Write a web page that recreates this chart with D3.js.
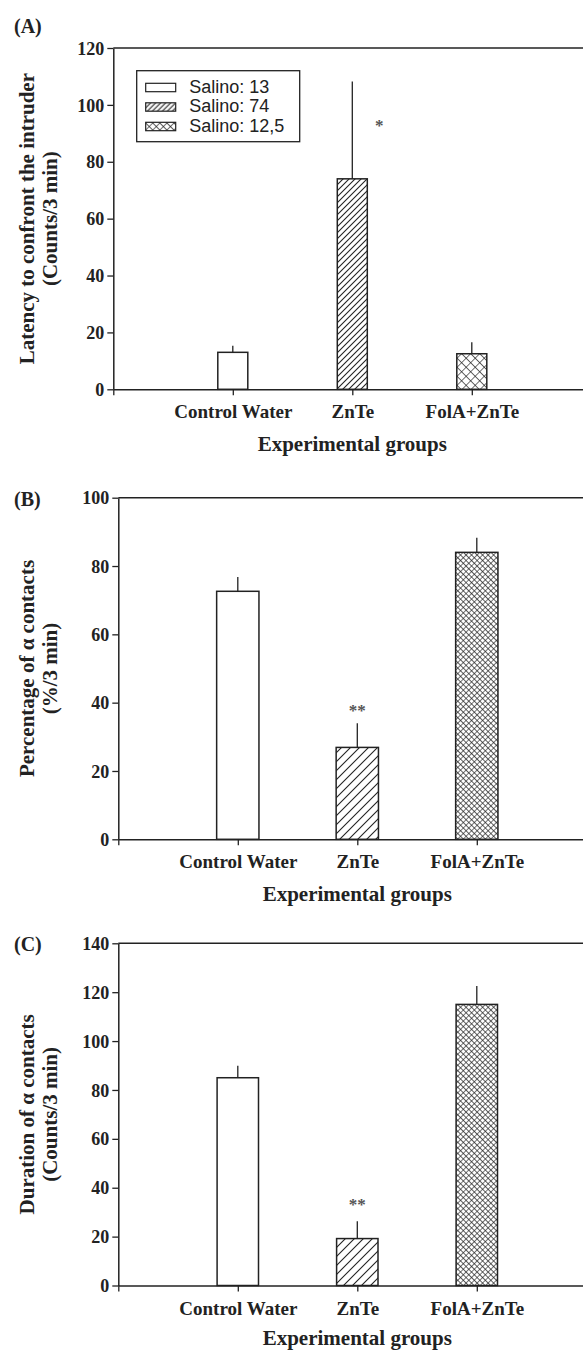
<!DOCTYPE html>
<html>
<head>
<meta charset="utf-8">
<script src="https://cdn.jsdelivr.net/npm/d3@7"></script>
<style>
  body { margin: 0; background: #fff; }
  svg { display: block; }
</style>
</head>
<body>
<svg width="583" height="1350"></svg>
<script>
// groups on the x axis
let groups = ["Control Water", "ZnTe", "FolA+ZnTe"];

// (A) latency to confront the intruder
let latencyMeans = [13, 74, 12.5];
let latencyErrors = [2.3, 34.2, 4.0];
let latencyStars = [null, "*", null];
let latencyStarAt = [null, 93.5, null];
let latencyTicks = [0, 20, 40, 60, 80, 100, 120];
let legendLabels = ["Salino: 13", "Salino: 74", "Salino: 12,5"];

// (B) percentage of alpha contacts
let percentMeans = [72.6, 26.9, 84.0];
let percentErrors = [4.2, 7.1, 4.3];
let percentStars = [null, "**", null];
let percentStarAt = [null, 38.3, null];
let percentTicks = [0, 20, 40, 60, 80, 100];

// (C) duration of alpha contacts
let durationMeans = [85, 19.2, 115];
let durationErrors = [4.9, 7.1, 7.5];
let durationStars = [null, "**", null];
let durationStarAt = [null, 33.9, null];
let durationTicks = [0, 20, 40, 60, 80, 100, 120, 140];

let svg = d3.select("svg");
let serif = "'Liberation Serif','Times New Roman',serif";
let sans = "'Liberation Sans',Arial,sans-serif";
let ink = "#222";
let fills = ["white", "hatch", "cross"];

let panels = [
  { key: "A", label: "(A)", labelY: 33, left: 113.3, top: 48, bottom: 389.3,
    means: latencyMeans, errors: latencyErrors, stars: latencyStars, starAt: latencyStarAt,
    ticks: latencyTicks, title: ["Latency to confront the intruder", "(Counts/3 min)"],
    barWidth: 30, hatch: 6, cross: 6.4, starDx: 27, legend: true, titleGap: 62 },
  { key: "B", label: "(B)", labelY: 506, left: 118.3, top: 497.7, bottom: 839.3,
    means: percentMeans, errors: percentErrors, stars: percentStars, starAt: percentStarAt,
    ticks: percentTicks, title: ["Percentage of \u03b1 contacts", "(%/3 min)"],
    barWidth: 42.3, hatch: 9, cross: 3.9, starDx: 0, titleGap: 62 },
  { key: "C", label: "(C)", labelY: 951, left: 118.3, top: 943.3, bottom: 1285.5,
    means: durationMeans, errors: durationErrors, stars: durationStars, starAt: durationStarAt,
    ticks: durationTicks, title: ["Duration of \u03b1 contacts", "(Counts/3 min)"],
    barWidth: 41.4, hatch: 9, cross: 3.9, starDx: 0, titleGap: 59 }
];

let defs = svg.append("defs");

function addHatch(id, s) {
  let p = defs.append("pattern")
    .attr("id", id)
    .attr("patternUnits", "userSpaceOnUse")
    .attr("width", s).attr("height", s);
  p.append("rect").attr("width", s).attr("height", s).attr("fill", "white");
  p.append("path")
    .attr("d", `M0,${s} L${s},0 M${-s / 2},${s / 2} L${s / 2},${-s / 2} M${s / 2},${s * 1.5} L${s * 1.5},${s / 2}`)
    .attr("stroke", ink).attr("stroke-width", 1.1);
}

function addCross(id, s) {
  let p = defs.append("pattern")
    .attr("id", id)
    .attr("patternUnits", "userSpaceOnUse")
    .attr("patternTransform", "rotate(45)")
    .attr("width", s).attr("height", s);
  p.append("rect").attr("width", s).attr("height", s).attr("fill", "white");
  p.append("path")
    .attr("d", `M0,0 L0,${s} M0,0 L${s},0`)
    .attr("stroke", ink).attr("stroke-width", 1.25);
}

function fillFor(p, kind) {
  if (kind === "hatch") return `url(#hatch-${p.key})`;
  if (kind === "cross") return `url(#cross-${p.key})`;
  return "white";
}

panels.forEach(p => {
  addHatch("hatch-" + p.key, p.hatch);
  addCross("cross-" + p.key, p.cross);

  let x = d3.scaleLinear().domain([0, 4]).range([p.left, p.left + 478]);
  let y = d3.scaleLinear().domain([0, d3.max(p.ticks)]).range([p.bottom, p.top]);
  let g = svg.append("g");

  // top frame
  g.append("line")
    .attr("x1", x(0)).attr("x2", x(4))
    .attr("y1", y(d3.max(p.ticks))).attr("y2", y(d3.max(p.ticks)))
    .attr("stroke", ink).attr("stroke-width", 1.5);

  // bars
  g.selectAll(".bar")
    .data(p.means)
    .enter().append("rect")
    .attr("x", (d, i) => x(i + 1) - p.barWidth / 2)
    .attr("y", d => y(d))
    .attr("width", p.barWidth)
    .attr("height", d => y(0) - y(d))
    .attr("fill", (d, i) => fillFor(p, fills[i]))
    .attr("stroke", ink).attr("stroke-width", 1.5);

  // upper error bars
  g.selectAll(".err")
    .data(p.means)
    .enter().append("line")
    .attr("x1", (d, i) => x(i + 1)).attr("x2", (d, i) => x(i + 1))
    .attr("y1", d => y(d))
    .attr("y2", (d, i) => y(d + p.errors[i]))
    .attr("stroke", ink).attr("stroke-width", 1.3);

  // significance marks
  g.selectAll(".star")
    .data(p.stars.map((s, i) => ({ s: s, i: i })).filter(d => d.s))
    .enter().append("text")
    .attr("x", d => x(d.i + 1) + p.starDx)
    .attr("y", d => y(p.starAt[d.i]))
    .attr("dy", "0.45em")
    .attr("text-anchor", "middle")
    .style("font", `bold 17px ${serif}`)
    .attr("fill", "#555")
    .text(d => d.s);

  // y axis
  let yAxis = g.append("g")
    .attr("transform", `translate(${p.left},0)`)
    .call(d3.axisLeft(y).tickValues(p.ticks).tickSize(6).tickSizeOuter(0).tickPadding(3).tickFormat(d3.format("d")));
  yAxis.select(".domain").attr("stroke", ink).attr("stroke-width", 1.5);
  yAxis.selectAll(".tick line").attr("stroke", ink).attr("stroke-width", 1.3);
  yAxis.selectAll("text").style("font", `bold 18px ${serif}`).attr("fill", ink).attr("dy", "0.34em");

  // x axis
  let xAxis = g.append("g")
    .attr("transform", `translate(0,${p.bottom})`)
    .call(d3.axisBottom(x).tickValues([0, 1, 2, 3]).tickSize(6).tickSizeOuter(0)
      .tickFormat(i => i ? groups[i - 1] : ""));
  xAxis.select(".domain").attr("stroke", ink).attr("stroke-width", 1.5);
  xAxis.selectAll(".tick line").attr("stroke", ink).attr("stroke-width", 1.3);
  xAxis.selectAll("text").style("font", `bold 19px ${serif}`).attr("fill", ink)
    .attr("y", 29).attr("dy", 0);

  g.append("text")
    .attr("x", x(2)).attr("y", p.bottom + p.titleGap)
    .attr("text-anchor", "middle")
    .style("font", `bold 21px ${serif}`).attr("fill", ink)
    .text("Experimental groups");

  // y title (two lines)
  let cy = (p.top + p.bottom) / 2;
  p.title.forEach((t, k) => {
    g.append("text")
      .attr("transform", `translate(${34 + k * 23},${cy}) rotate(-90)`)
      .attr("text-anchor", "middle")
      .style("font", `bold 21px ${serif}`).attr("fill", ink)
      .text(t);
  });

  // panel letter
  g.append("text")
    .attr("x", 14).attr("y", p.labelY)
    .style("font", `bold 20px ${serif}`).attr("fill", ink)
    .text(p.label);

  if (p.legend) {
    addHatch("hatch-leg", 5);
    addCross("cross-leg", 5);
    let lg = g.append("g").attr("transform", `translate(${p.left + 23.4},${p.top + 22.7})`);
    lg.append("rect")
      .attr("width", 163).attr("height", 71)
      .attr("fill", "white").attr("stroke", ink).attr("stroke-width", 1.3);
    let row = lg.selectAll(".row")
      .data(legendLabels)
      .enter().append("g")
      .attr("transform", (d, i) => `translate(9,${12.6 + i * 19.5})`);
    row.append("rect")
      .attr("width", 30).attr("height", 8.4)
      .attr("fill", (d, i) => fills[i] === "white" ? "white" : `url(#${fills[i]}-leg)`)
      .attr("stroke", ink).attr("stroke-width", 1.2);
    row.append("text")
      .attr("x", 43.6).attr("y", 9.4)
      .style("font", `18px ${sans}`).attr("fill", ink)
      .text(d => d);
  }
});
</script>
</body>
</html>
